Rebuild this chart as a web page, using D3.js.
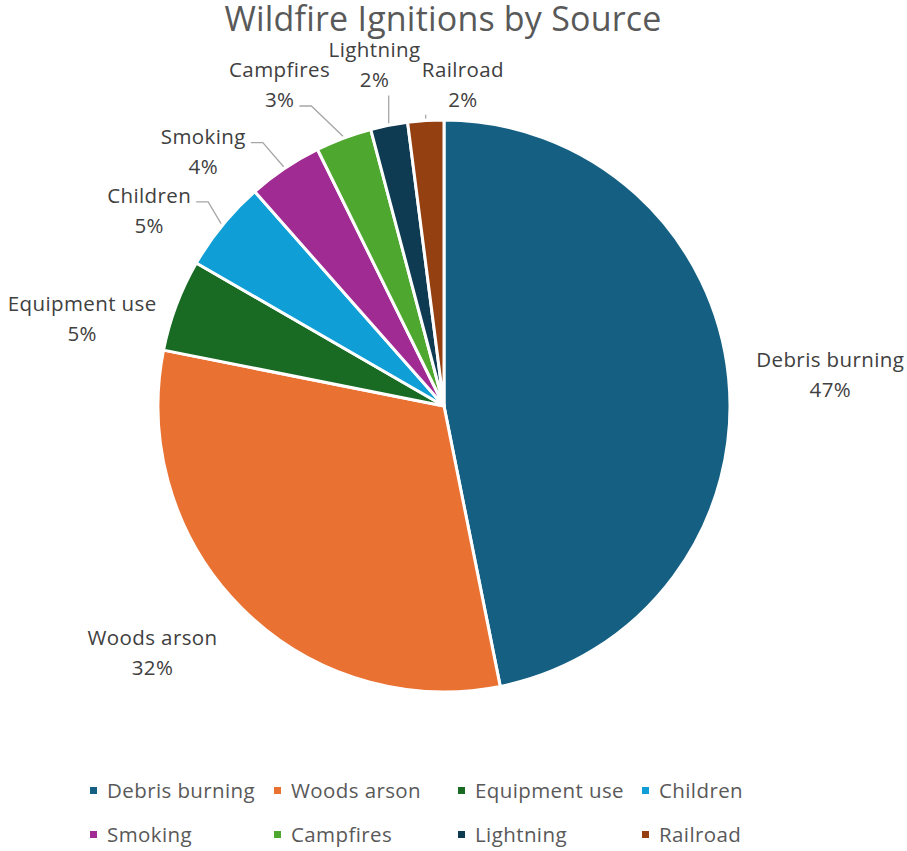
<!DOCTYPE html>
<html>
<head>
<meta charset="utf-8">
<script src="https://cdn.jsdelivr.net/npm/d3@7"></script>
<style>
  body { margin: 0; background: #fff; }
  text { font-family: "Open Sans", "Noto Sans", sans-serif; }
</style>
</head>
<body>
<div id="chart"></div>
<script>
// Chart data
var categories = ["Debris burning", "Woods arson", "Equipment use", "Children",
                  "Smoking", "Campfires", "Lightning", "Railroad"];
var shares = [46.85, 31.28, 5.2, 5.16, 4.22, 3.17, 2.09, 2.03];
var pctLabels = ["47%", "32%", "5%", "5%", "4%", "3%", "2%", "2%"];
var colors = ["#156082", "#e97132", "#196b24", "#0f9ed5",
              "#a02b93", "#4ea72e", "#0e3b51", "#954011"];

// Layout
var svgWidth = 907;
var svgHeight = 851;
var cx = 444, cy = 406, radius = 286;
var fontSize = "20.5px", spacing = "0.4px";

// label nudges from the outer centroid [dx, dy, leader line?]
var labelNudge = [
    [42, 9, false], [-47, 8, false], [-38, 41, false], [-27, 30, true],
    [-48, 39, true], [-43, 9, true], [-3, 5, true], [41, 30, true]
];

var svg = d3.select("#chart").append("svg")
    .attr("width", svgWidth)
    .attr("height", svgHeight);

// Title
svg.append("text")
    .attr("x", 443)
    .attr("y", 31)
    .attr("text-anchor", "middle")
    .attr("font-size", "34px")
    .attr("letter-spacing", "0.2px")
    .attr("fill", "#595959")
    .text("Wildfire Ignitions by Source");

var pieData = d3.pie().sort(null).value(d => d.value)(
    categories.map((c, i) => ({ name: c, value: shares[i], i: i }))
);

var arc = d3.arc().innerRadius(0).outerRadius(radius);
var outerArc = d3.arc().innerRadius(radius + 60).outerRadius(radius + 60);

var pieGroup = svg.append("g")
    .attr("transform", `translate(${cx}, ${cy})`);

pieGroup.selectAll("path.slice")
    .data(pieData)
    .enter()
    .append("path")
    .attr("class", "slice")
    .attr("d", arc)
    .attr("fill", d => colors[d.data.i])
    .attr("stroke", "#fff")
    .attr("stroke-width", 3)
    .attr("stroke-linejoin", "round");

// Data labels
var labelGroup = pieGroup.selectAll("g.label")
    .data(pieData)
    .enter()
    .append("g")
    .attr("class", "label")
    .attr("transform", function(d) {
        var c = outerArc.centroid(d);
        var n = labelNudge[d.data.i];
        return `translate(${c[0] + n[0]}, ${c[1] + n[1]})`;
    });

labelGroup.append("text")
    .attr("class", "l1")
    .attr("text-anchor", "middle")
    .attr("y", -14)
    .attr("font-size", fontSize)
    .attr("letter-spacing", spacing)
    .attr("fill", "#404040")
    .text(d => d.data.name);

labelGroup.append("text")
    .attr("class", "l2")
    .attr("text-anchor", "middle")
    .attr("y", 16)
    .attr("font-size", fontSize)
    .attr("letter-spacing", spacing)
    .attr("fill", "#404040")
    .text(d => pctLabels[d.data.i]);

// Leader lines, Excel style: diagonal from slice, short horizontal to label
labelGroup.each(function(d) {
    if (!labelNudge[d.data.i][2]) return;
    var g = d3.select(this);
    var t = g.attr("transform").match(/translate\(([-\d.]+),\s*([-\d.]+)\)/);
    var ox = +t[1], oy = +t[2];
    var mid = (d.startAngle + d.endAngle) / 2;
    var sx = Math.sin(mid) * (radius + 2), sy = -Math.cos(mid) * (radius + 2);
    var lines = [g.select(".l1"), g.select(".l2")].map(function(s) {
        var b = s.node().getBBox();
        return { x0: ox + b.x, x1: ox + b.x + b.width, base: oy + +s.attr("y"), bottom: oy + b.y + b.height };
    });
    var left = d3.min(lines, l => l.x0), right = d3.max(lines, l => l.x1);
    var pts;
    if (sx >= left && sx <= right) {
        pts = [[sx, sy], [sx, lines[1].bottom + 2]];
    } else if (sx > right) {
        var l = lines.find(l => l.x1 + 15 < sx) || lines[1];
        var y = l.base - 1;
        pts = [[sx, sy], [l.x1 + 17, y], [l.x1 + 5, y]];
    } else {
        var l = lines.find(l => l.x0 - 15 > sx) || lines[1];
        var y = l.base - 1;
        pts = [[sx, sy], [l.x0 - 17, y], [l.x0 - 5, y]];
    }
    pieGroup.append("path")
        .attr("d", d3.line()(pts))
        .attr("fill", "none")
        .attr("stroke", "#a6a6a6")
        .attr("stroke-width", 1.3);
});

// Legend
var legend = svg.append("g")
    .attr("transform", "translate(90, 0)");

var legendItem = legend.selectAll("g")
    .data(categories)
    .enter()
    .append("g")
    .attr("transform", (d, i) => `translate(${(i % 4) * 184}, ${i < 4 ? 791 : 835})`);

legendItem.append("rect")
    .attr("x", 0)
    .attr("y", -4)
    .attr("width", 7)
    .attr("height", 7)
    .attr("fill", (d, i) => colors[i]);

legendItem.append("text")
    .attr("x", 17)
    .attr("y", 7)
    .attr("font-size", fontSize)
    .attr("letter-spacing", spacing)
    .attr("fill", "#595959")
    .text(d => d);
</script>
</body>
</html>
